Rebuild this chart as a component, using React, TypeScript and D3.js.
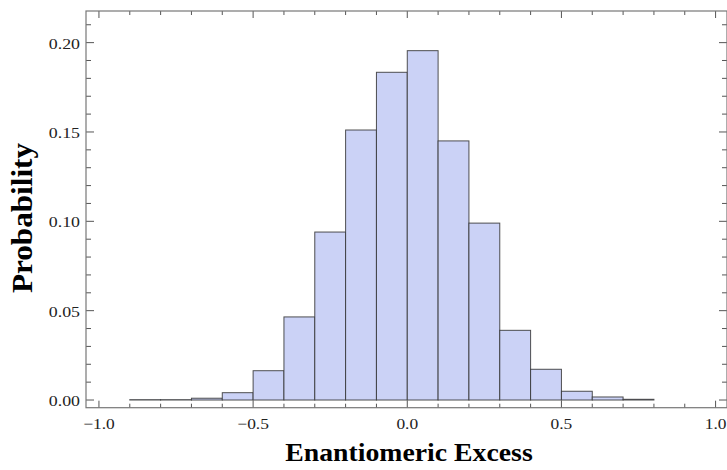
import * as d3 from 'd3';
import React, { useRef, useEffect } from 'react';

// bin edges (left) and probabilities, bins of width 0.1
const binStarts = [-0.9, -0.8, -0.7, -0.6, -0.5, -0.4, -0.3, -0.2, -0.1, 0.0, 0.1, 0.2, 0.3, 0.4, 0.5, 0.6, 0.7];
const probs = [0.0002, 0.0002, 0.001, 0.0041, 0.0164, 0.0465, 0.094, 0.1511, 0.1834, 0.1955, 0.145, 0.099, 0.039, 0.0172, 0.0049, 0.0017, 0.0004];
const binWidth = 0.1;

const xMajor = [-1.0, -0.5, 0.0, 0.5, 1.0];
const yMajor = [0.0, 0.05, 0.1, 0.15, 0.2];
const xLabel = 'Enantiomeric Excess';
const yLabel = 'Probability';

function App() {
  const ref = useRef(null);

  useEffect(() => {
    const width = 727;
    const height = 470;
    const left = 86, right = 727, top = 11, bottom = 407.7;

    const x = d3.scaleLinear().domain([-1.042, 1.037]).range([left, right]);
    const y = d3.scaleLinear().domain([-0.0043, 0.2177]).range([bottom, top]);

    const svg = d3.select(ref.current)
      .attr('width', width)
      .attr('height', height)
      .attr('viewBox', `0 0 ${width} ${height}`);
    svg.selectAll('*').remove();

    const fontFamily = "'Liberation Serif', 'Times New Roman', serif";

    // bars
    svg.append('g')
      .selectAll('rect')
      .data(binStarts)
      .join('rect')
      .attr('x', d => x(d))
      .attr('width', d => x(d + binWidth) - x(d))
      .attr('y', (d, i) => y(probs[i]))
      .attr('height', (d, i) => y(0) - y(probs[i]))
      .attr('fill', '#cbd2f6')
      .attr('stroke', '#333')
      .attr('stroke-opacity', 0.85)
      .attr('stroke-width', 1);

    // ticks on all four sides
    const xMinor = d3.range(-10, 11).map(i => i / 10);
    const yMinor = d3.range(0, 22).map(i => i / 100);
    const ticks = svg.append('g').attr('stroke', '#555').attr('stroke-width', 1);
    const isMajor = (v: number, list: number[]) => list.some(m => Math.abs(m - v) < 1e-9);

    xMinor.forEach(v => {
      const len = isMajor(v, xMajor) ? 7 : 4;
      ticks.append('line').attr('x1', x(v)).attr('x2', x(v)).attr('y1', bottom).attr('y2', bottom - len);
      ticks.append('line').attr('x1', x(v)).attr('x2', x(v)).attr('y1', top).attr('y2', top + len);
    });
    yMinor.forEach(v => {
      const len = isMajor(v, yMajor) ? 8 : 5;
      ticks.append('line').attr('x1', left).attr('x2', left + len).attr('y1', y(v)).attr('y2', y(v));
      ticks.append('line').attr('x1', right).attr('x2', right - len).attr('y1', y(v)).attr('y2', y(v));
    });

    // frame
    svg.append('rect')
      .attr('x', left).attr('y', top)
      .attr('width', right - left).attr('height', bottom - top)
      .attr('fill', 'none').attr('stroke', '#777').attr('stroke-width', 1.2);

    // tick labels (reference text is a little wide)
    const fmtX = (v: number) => (v < 0 ? '\u2212' : '') + Math.abs(v).toFixed(1);
    svg.append('g').selectAll('text').data(xMajor).join('text')
      .attr('transform', d => `translate(${x(d)},${bottom + 21.5}) scale(1.16,1)`)
      .attr('text-anchor', 'middle')
      .attr('font-family', fontFamily).attr('font-size', 15).attr('fill', '#222')
      .text(d => fmtX(d));

    svg.append('g').selectAll('text').data(yMajor).join('text')
      .attr('transform', d => `translate(${left - 6},${y(d) + 6}) scale(1.19,1)`)
      .attr('text-anchor', 'end')
      .attr('font-family', fontFamily).attr('font-size', 15).attr('fill', '#222')
      .text(d => d.toFixed(2));

    // axis labels
    svg.append('text')
      .attr('transform', 'translate(409,461) scale(1.11,1)')
      .attr('text-anchor', 'middle')
      .attr('font-family', fontFamily).attr('font-size', 25).attr('font-weight', 'bold')
      .text(xLabel);

    svg.append('text')
      .attr('transform', 'translate(32,218) rotate(-90) scale(1.04,1)')
      .attr('text-anchor', 'middle')
      .attr('font-family', fontFamily).attr('font-size', 30).attr('font-weight', 'bold')
      .text(yLabel);
  }, []);

  return (
    <svg ref={ref} style={{ position: 'absolute', left: 0, top: 0, background: '#fff' }} />
  );
}

export default App;
